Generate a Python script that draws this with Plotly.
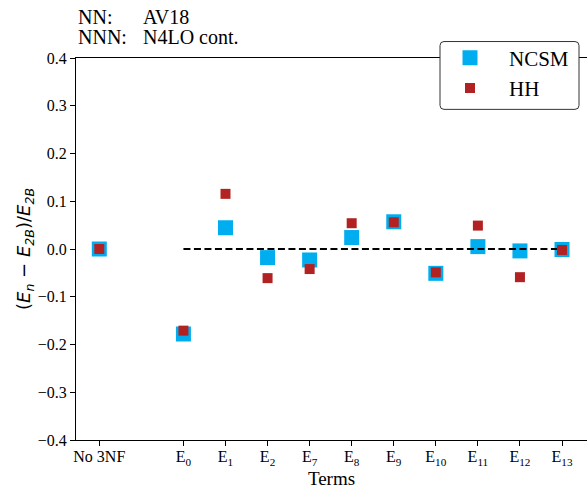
import plotly.graph_objects as go

terms = ["No 3NF", "E<sub>0</sub>", "E<sub>1</sub>", "E<sub>2</sub>", "E<sub>7</sub>", "E<sub>8</sub>",
         "E<sub>9</sub>", "E<sub>10</sub>", "E<sub>11</sub>", "E<sub>12</sub>", "E<sub>13</sub>"]
ncsm = [0.0, -0.178, 0.0445, -0.018, -0.023, 0.024, 0.057, -0.051, 0.005, -0.004, -0.001]
hh = [0.0, -0.171, 0.1155, -0.061, -0.042, 0.054, 0.056, -0.049, 0.049, -0.059, -0.002]
yticks = [-0.4, -0.3, -0.2, -0.1, 0.0, 0.1, 0.2, 0.3, 0.4]

# "No 3NF" sits apart from the E terms (one empty slot between)
xpos = [0] + [i + 1 for i in range(1, len(terms))]

W, H = 587, 489
L, R, T, B = 76, 0, 57.5, 48.5
pw, ph = W - L - R, H - T - B

serif = "Liberation Serif, Times New Roman, serif"

fig = go.Figure()
fig.add_trace(go.Scatter(
    x=xpos, y=ncsm, mode="markers", name="NCSM", legendgroup="a",
    marker=dict(symbol="square", size=15, color="#00AEEF", line=dict(width=0)),
))
fig.add_trace(go.Scatter(
    x=[xpos[1], xpos[-1]], y=[0, 0], mode="lines", showlegend=False,
    line=dict(color="black", width=2.2, dash="7px,3.5px"), hoverinfo="skip",
))
fig.add_trace(go.Scatter(
    x=xpos, y=hh, mode="markers", name="HH", legendgroup="b",
    marker=dict(symbol="square", size=10, color="#B22222", line=dict(width=0)),
))

def px2paper(px, py):
    return (px - L) / pw, (H - B - py) / ph

# rounded legend frame
lx0, ly0 = px2paper(440, 41)
lx1, ly1 = px2paper(579, 109)
rx, ry = 4 / pw, 4 / ph
path = (f"M {lx0+rx},{ly0} L {lx1-rx},{ly0} Q {lx1},{ly0} {lx1},{ly0-ry} "
        f"L {lx1},{ly1+ry} Q {lx1},{ly1} {lx1-rx},{ly1} "
        f"L {lx0+rx},{ly1} Q {lx0},{ly1} {lx0},{ly1+ry} "
        f"L {lx0},{ly0-ry} Q {lx0},{ly0} {lx0+rx},{ly0} Z")
fig.add_shape(type="path", path=path, xref="paper", yref="paper",
              fillcolor="white", line=dict(color="#333333", width=1), layer="above")

ax0, ay0 = px2paper(78, 29)
ax1, _ = px2paper(143, 29)
bx0, by0 = px2paper(78, 49)
for x, y, t in [(ax0, ay0, "NN:"), (ax1, ay0, "AV18"), (bx0, by0, "NNN:"), (ax1, by0, "N4LO cont.")]:
    fig.add_annotation(x=x, y=y, xref="paper", yref="paper", text=t, showarrow=False,
                       xanchor="left", yanchor="bottom", xshift=-2,
                       font=dict(family=serif, size=20, color="black"))

lgx, lgy = px2paper(431, 37)
fig.update_layout(
    width=W, height=H, margin=dict(l=L, r=R, t=T, b=B, autoexpand=False),
    plot_bgcolor="white", paper_bgcolor="white",
    font=dict(family=serif, size=16, color="black"),
    showlegend=True,
    legend=dict(x=lgx, y=lgy, xanchor="left", yanchor="top", bgcolor="rgba(0,0,0,0)",
                borderwidth=0, font=dict(family=serif, size=21, color="black"), itemwidth=68,
                tracegroupgap=0),
    xaxis=dict(range=[-0.554, 11.594], tickmode="array", tickvals=xpos, ticktext=terms,
               tickfont=dict(family=serif, size=16, color="black"), automargin=False,
               ticklabelstandoff=-3,
               showline=True, linecolor="black", linewidth=1, mirror=True,
               ticks="outside", ticklen=5, tickcolor="black", showgrid=False, zeroline=False,
               title=dict(text="Terms", font=dict(family=serif, size=19, color="black"), standoff=9)),
    yaxis=dict(range=[-0.4, 0.4], tickmode="array", tickvals=yticks,
               ticktext=[f"{v:.1f}".replace("-", "\u2212") for v in yticks],
               tickfont=dict(family=serif, size=16, color="black"), automargin=False,
               showline=True, linecolor="black", linewidth=1, mirror=False,
               ticks="outside", ticklen=5, tickcolor="black", showgrid=False, zeroline=False,
               title=dict(text="(<i>E<sub>n</sub></i> \u2212 <i>E<sub>2B</sub></i>)/<i>E<sub>2B</sub></i>",
                          font=dict(family="DejaVu Sans", size=18, color="black"), standoff=2)),
)

fig.write_html("out.html")
